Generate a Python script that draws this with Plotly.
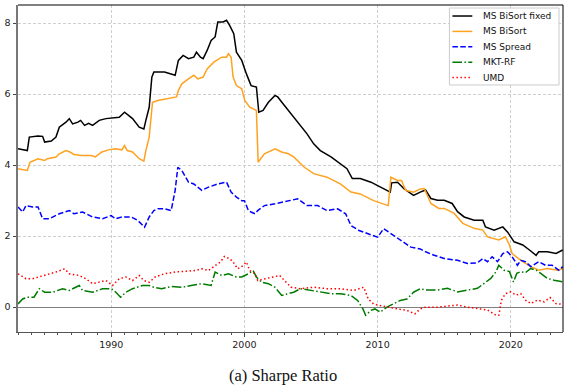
import plotly.graph_objects as go

# ---- data ----
fixed_years = [1983.0, 1983.4, 1983.7, 1983.85, 1984.5, 1984.85, 1985.0, 1985.5, 1985.85, 1986.1,
               1986.6, 1986.85, 1987.1, 1987.5, 1987.7, 1988.0, 1988.3, 1988.6, 1989.1, 1989.6,
               1990.1, 1990.6, 1991.0, 1991.3, 1991.6, 1992.1, 1992.45, 1992.6, 1992.85, 1993.05,
               1993.2, 1993.5, 1994.0, 1994.8, 1995.04, 1995.4, 1995.8, 1996.2, 1996.4, 1996.7,
               1996.9, 1997.2, 1997.5, 1997.8, 1998.0, 1998.4, 1998.66, 1998.9, 1999.2, 1999.4,
               1999.8, 2000.15, 2000.5, 2000.9, 2001.08, 2001.4, 2001.8, 2002.3, 2002.5, 2002.9,
               2003.3, 2003.6, 2004.2, 2004.7, 2005.2, 2005.7, 2006.5, 2007.2, 2007.7, 2008.1,
               2008.7, 2009.5, 2010.2, 2010.95, 2011.05, 2011.5, 2012.0, 2012.7, 2013.2, 2013.6,
               2014.0, 2014.5, 2015.0, 2015.6, 2016.0, 2016.5, 2017.25, 2017.9, 2018.1, 2018.75,
               2019.4, 2019.75, 2020.25, 2020.9, 2021.4, 2021.9, 2022.1, 2022.75, 2023.4, 2023.9]
fixed_vals = [4.46, 4.44, 4.41, 4.79, 4.82, 4.81, 4.65, 4.68, 4.79, 5.07,
              5.21, 5.31, 5.16, 5.21, 5.26, 5.12, 5.18, 5.12, 5.26, 5.31,
              5.32, 5.35, 5.49, 5.40, 5.31, 5.07, 5.02, 5.26, 5.63, 6.48,
              6.62, 6.62, 6.62, 6.53, 6.95, 7.09, 7.00, 7.04, 7.18, 7.04,
              7.00, 7.23, 7.51, 7.61, 8.03, 8.03, 8.08, 7.93, 7.70, 7.18,
              6.95, 6.57, 6.24, 6.20, 5.49, 5.54, 5.77, 5.96, 5.92, 5.73,
              5.54, 5.40, 5.12, 4.88, 4.60, 4.41, 4.23, 4.04, 3.90, 3.62,
              3.62, 3.52, 3.38, 3.24, 3.50, 3.52, 3.33, 3.15, 3.24, 3.30,
              3.06, 3.01, 3.01, 2.92, 2.69, 2.54, 2.45, 2.45, 2.26, 2.17,
              2.26, 2.12, 1.84, 1.75, 1.61, 1.46, 1.56, 1.56, 1.51, 1.61]

bisort_years = [1983.0, 1983.7, 1983.9, 1984.5, 1985.0, 1985.2, 1985.85, 1986.1, 1986.6, 1986.9,
                1987.2, 1987.8, 1988.5, 1988.8, 1989.3, 1989.8, 1990.3, 1990.8, 1991.0, 1991.2,
                1991.6, 1992.1, 1992.45, 1992.6, 1992.85, 1993.0, 1993.1, 1993.5, 1994.2, 1994.9,
                1995.04, 1995.3, 1995.8, 1996.2, 1996.5, 1996.9, 1997.2, 1997.7, 1998.3, 1998.66,
                1998.8, 1999.0, 1999.15, 1999.4, 1999.8, 2000.03, 2000.4, 2000.9, 2001.03, 2001.5,
                2002.3, 2002.8, 2003.3, 2003.7, 2004.5, 2005.2, 2006.2, 2007.2, 2008.0, 2008.7,
                2009.7, 2010.8, 2011.0, 2011.5, 2011.8, 2012.1, 2012.7, 2013.2, 2013.5, 2014.0,
                2014.6, 2015.0, 2015.75, 2016.4, 2017.25, 2017.9, 2018.25, 2019.1, 2019.6, 2019.9,
                2020.1, 2020.75, 2021.5, 2022.1, 2022.75, 2023.5, 2023.9]
bisort_vals = [3.90, 3.85, 4.08, 4.18, 4.13, 4.18, 4.23, 4.32, 4.41, 4.37,
               4.30, 4.27, 4.27, 4.23, 4.37, 4.43, 4.46, 4.43, 4.55, 4.41,
               4.37, 4.18, 4.11, 4.41, 4.79, 5.54, 5.77, 5.82, 5.87, 5.92,
               6.10, 6.29, 6.43, 6.53, 6.43, 6.48, 6.71, 6.90, 7.04, 7.04,
               7.14, 7.04, 6.48, 6.24, 6.15, 5.82, 5.63, 5.54, 4.08, 4.32,
               4.46, 4.37, 4.32, 4.23, 3.94, 3.76, 3.66, 3.47, 3.24, 3.19,
               3.00, 2.86, 3.66, 3.57, 3.57, 3.29, 3.24, 3.33, 3.34, 2.92,
               2.78, 2.78, 2.64, 2.36, 2.22, 2.17, 1.98, 1.89, 1.98, 1.75,
               1.51, 1.32, 1.14, 1.04, 1.09, 1.04, 1.09]

spread_years = [1983.0, 1983.35, 1983.6, 1984.1, 1984.5, 1984.85, 1985.35, 1986.1, 1986.85, 1987.2,
                1987.85, 1988.6, 1989.35, 1990.0, 1990.3, 1990.8, 1991.5, 1992.0, 1992.5, 1992.85,
                1993.2, 1993.5, 1994.0, 1994.5, 1994.8, 1995.0, 1995.3, 1995.8, 1996.2, 1996.8,
                1997.3, 1998.0, 1998.66, 1999.0, 1999.4, 1999.8, 2000.0, 2000.3, 2000.5, 2000.8,
                2001.0, 2001.5, 2002.3, 2003.0, 2004.0, 2004.7, 2005.5, 2006.2, 2007.0, 2007.6,
                2008.0, 2008.6, 2009.3, 2010.0, 2010.45, 2011.0, 2011.7, 2012.5, 2013.2, 2013.6,
                2014.25, 2015.0, 2016.0, 2016.75, 2017.5, 2017.9, 2018.25, 2018.6, 2019.0, 2019.4,
                2019.75, 2020.1, 2020.5, 2020.75, 2021.1, 2021.5, 2022.1, 2022.6, 2023.1, 2023.6,
                2023.9]
spread_vals = [2.82, 2.68, 2.86, 2.82, 2.82, 2.49, 2.49, 2.63, 2.72, 2.63,
               2.68, 2.54, 2.49, 2.58, 2.49, 2.54, 2.54, 2.44, 2.25, 2.54,
               2.72, 2.77, 2.77, 2.72, 3.29, 3.94, 3.85, 3.52, 3.47, 3.29,
               3.38, 3.47, 3.52, 3.24, 3.10, 3.00, 3.00, 2.72, 2.68, 2.63,
               2.72, 2.86, 2.91, 2.96, 3.05, 2.86, 2.86, 2.72, 2.77, 2.63,
               2.30, 2.16, 2.07, 1.97, 2.21, 2.07, 1.88, 1.69, 1.64, 1.56,
               1.46, 1.37, 1.32, 1.23, 1.25, 1.37, 1.28, 1.42, 1.28, 1.51,
               1.56, 1.42, 1.18, 1.32, 1.28, 1.14, 1.28, 1.18, 1.18, 1.04,
               1.14]

mkt_years = [1983.0, 1983.35, 1983.7, 1984.2, 1984.6, 1985.0, 1985.6, 1986.35, 1986.85, 1987.6,
             1987.85, 1988.6, 1989.35, 1990.0, 1990.35, 1990.7, 1991.1, 1991.6, 1992.35, 1992.85,
             1993.2, 1993.8, 1994.5, 1995.3, 1996.0, 1996.8, 1997.5, 1997.8, 1998.3, 1998.8,
             1999.4, 1999.8, 2000.3, 2000.65, 2000.9, 2001.3, 2001.8, 2002.3, 2002.8, 2003.3,
             2003.7, 2004.2, 2005.0, 2005.7, 2006.5, 2007.2, 2008.0, 2008.5, 2008.9, 2009.1,
             2009.5, 2009.8, 2010.2, 2010.7, 2011.2, 2011.7, 2012.2, 2012.7, 2013.2, 2013.6,
             2014.5, 2015.25, 2016.0, 2016.75, 2017.5, 2018.0, 2018.5, 2018.9, 2019.1, 2019.5,
             2019.9, 2020.2, 2020.45, 2020.75, 2021.1, 2021.5, 2021.9, 2022.25, 2022.75, 2023.25,
             2023.9]
mkt_vals = [0.09, 0.23, 0.28, 0.28, 0.52, 0.42, 0.42, 0.52, 0.47, 0.61,
            0.47, 0.42, 0.52, 0.52, 0.42, 0.28, 0.42, 0.52, 0.61, 0.61,
            0.56, 0.52, 0.58, 0.56, 0.61, 0.66, 0.61, 0.99, 0.89, 0.94,
            0.85, 0.85, 0.94, 1.03, 0.85, 0.70, 0.66, 0.56, 0.33, 0.38,
            0.42, 0.52, 0.47, 0.42, 0.38, 0.38, 0.33, 0.19, -0.05, -0.23,
            -0.09, -0.05, -0.14, 0.00, 0.09, 0.19, 0.23, 0.42, 0.52, 0.48,
            0.48, 0.53, 0.43, 0.48, 0.53, 0.67, 0.81, 1.00, 1.18, 1.04,
            1.00, 0.71, 0.95, 1.00, 0.97, 1.09, 1.04, 0.95, 0.81, 0.76,
            0.71]

umd_years = [1983.0, 1983.6, 1984.1, 1984.6, 1985.35, 1985.85, 1986.5, 1986.85, 1987.6, 1988.1,
             1988.6, 1989.1, 1989.6, 1990.1, 1990.6, 1991.1, 1991.6, 1992.1, 1992.45, 1992.85,
             1993.3, 1993.6, 1994.0, 1994.8, 1995.5, 1996.3, 1996.8, 1997.3, 1997.8, 1998.2,
             1998.5, 1998.9, 1999.15, 1999.5, 1999.9, 2000.15, 2000.4, 2000.8, 2001.0, 2001.5,
             2002.15, 2002.65, 2003.0, 2003.5, 2004.2, 2005.2, 2006.2, 2007.2, 2008.2, 2008.96,
             2009.3, 2009.7, 2010.1, 2010.7, 2011.5, 2012.2, 2012.8, 2013.2, 2013.6, 2014.5,
             2015.25, 2016.0, 2016.75, 2017.5, 2018.25, 2018.9, 2019.1, 2019.3, 2019.6, 2020.0,
             2020.4, 2020.75, 2021.1, 2021.5, 2022.0, 2022.5, 2022.95, 2023.4, 2023.9]
umd_vals = [0.94, 0.80, 0.80, 0.85, 0.94, 0.99, 1.08, 0.94, 0.89, 0.80,
            0.66, 0.70, 0.75, 0.61, 0.80, 0.85, 0.75, 0.89, 0.75, 0.70,
            0.85, 0.89, 0.94, 0.99, 1.01, 1.03, 1.08, 1.03, 1.17, 1.27,
            1.43, 1.36, 1.27, 1.08, 1.17, 1.27, 1.03, 0.94, 0.75, 0.80,
            0.85, 0.89, 0.75, 0.56, 0.52, 0.56, 0.52, 0.52, 0.47, 0.56,
            0.23, 0.09, 0.05, 0.00, -0.05, -0.09, -0.19, -0.05, 0.00, 0.00,
            0.03, 0.06, 0.00, -0.04, -0.08, -0.23, -0.23, 0.20, 0.38, 0.43,
            0.34, 0.38, 0.20, 0.10, 0.20, 0.15, 0.27, 0.10, 0.08]

series_names = ["MS BiSort fixed", "MS BiSort", "MS Spread", "MKT-RF", "UMD"]
x_ticks = [1990, 2000, 2010, 2020]
y_ticks = [0, 2, 4, 6, 8]
caption = "(a) Sharpe Ratio"

# ---- figure ----
styles = [
    dict(color="black", dash="solid"),
    dict(color="#FFA21F", dash="solid"),
    dict(color="#0000FF", dash="5.5px,2.4px"),
    dict(color="#007A00", dash="9.6px,2.4px,1.5px,2.4px"),
    dict(color="#FF0000", dash="1.5px,2.5px"),
]
data = [(fixed_years, fixed_vals), (bisort_years, bisort_vals), (spread_years, spread_vals),
        (mkt_years, mkt_vals), (umd_years, umd_vals)]

fig = go.Figure()
for name, (xs, ys), st in zip(series_names, data, styles):
    fig.add_trace(go.Scatter(x=xs, y=ys, mode="lines", name=name, showlegend=False,
                             line=dict(color=st["color"], dash=st["dash"], width=1.5)))

tick_font = dict(family="DejaVu Sans", size=9.5, color="#222")
fig.update_layout(
    width=568, height=387,
    margin=dict(l=16, r=5, t=5, b=55),
    paper_bgcolor="white", plot_bgcolor="white",
    showlegend=False,
    xaxis=dict(range=[1983.0, 2023.92], tickvals=x_ticks, ticktext=[str(t) for t in x_ticks],
               showgrid=True, gridcolor="#cfcfcf", griddash="3px,2px", gridwidth=1,
               showline=True, linecolor="#555555", linewidth=1,
               ticks="outside", ticklen=3.5, tickcolor="#444", tickfont=tick_font,
               minor=dict(dtick=1, tick0=1983, ticks="outside", ticklen=2, tickcolor="#555",
                          showgrid=False),
               zeroline=False),
    yaxis=dict(range=[-0.70, 8.51], tickvals=y_ticks, ticktext=[str(t) for t in y_ticks],
               showgrid=True, gridcolor="#cfcfcf", griddash="3px,2px", gridwidth=1,
               showline=True, linecolor="#777777", linewidth=2,
               ticks="outside", ticklen=3.5, tickcolor="#444", tickfont=tick_font,
               zeroline=True, zerolinecolor="#808080", zerolinewidth=1),
)
# top and right frame
fig.add_shape(type="line", xref="paper", yref="paper", x0=0, x1=1, y0=1, y1=1,
              line=dict(color="black", width=1))
fig.add_shape(type="line", xref="paper", yref="paper", x0=1, x1=1, y0=0, y1=1,
              line=dict(color="black", width=1))

# legend box (matplotlib-style, compact) in paper coordinates
lg_x0, lg_x1, lg_top, lg_bot = 0.7916, 0.9927, 0.9908, 0.7554
fig.add_shape(type="rect", xref="paper", yref="paper", x0=lg_x0, x1=lg_x1, y0=lg_bot, y1=lg_top,
              line=dict(color="#cccccc", width=1), fillcolor="rgba(255,255,255,0.9)", layer="above")
step = (lg_top - lg_bot) / len(series_names)
for i, (name, st) in enumerate(zip(series_names, styles)):
    yc = lg_top - (i + 0.52) * step
    fig.add_shape(type="line", xref="paper", yref="paper", x0=0.7971, x1=0.8336, y0=yc, y1=yc,
                  line=dict(color=st["color"], dash=st["dash"], width=1.5), layer="above")
    fig.add_annotation(text=name, xref="paper", yref="paper", x=0.8495, y=yc,
                       xanchor="left", yanchor="middle", showarrow=False,
                       font=dict(family="DejaVu Sans", size=9, color="#111"))

fig.add_annotation(text=caption, xref="paper", yref="paper", x=0.487, y=-0.1315,
                   xanchor="center", yanchor="middle", showarrow=False,
                   font=dict(family="Liberation Serif", size=16.5, color="#111"))

fig.write_html("out.html", config={"displayModeBar": False},
               post_script="document.body.style.margin='0';")
